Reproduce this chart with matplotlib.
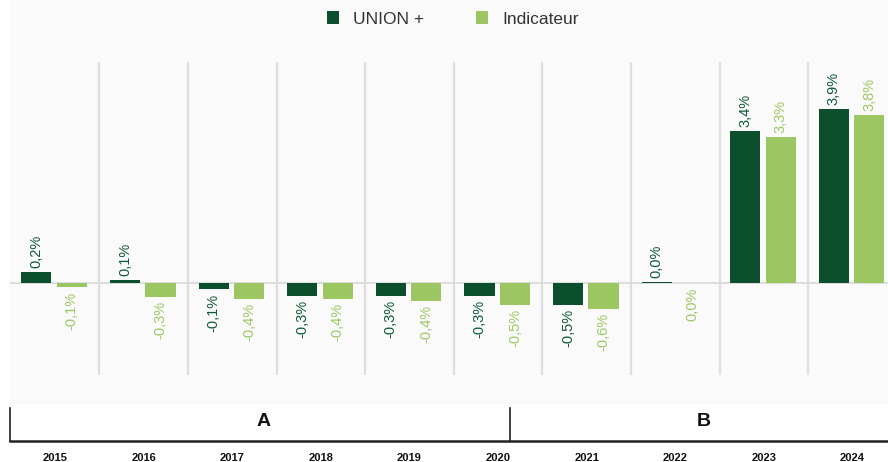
import matplotlib
matplotlib.use("Agg")
import matplotlib.pyplot as plt
import matplotlib.transforms as mtransforms
from matplotlib.patches import Rectangle
from matplotlib.lines import Line2D
import numpy as np

years = ["2015", "2016", "2017", "2018", "2019", "2020", "2021", "2022", "2023", "2024"]
union = [0.24, 0.06, -0.14, -0.29, -0.29, -0.29, -0.49, 0.02, 3.41, 3.90]
indic = [-0.10, -0.31, -0.36, -0.36, -0.40, -0.49, -0.58, -0.01, 3.27, 3.76]
series_names = ["UNION +", "Indicateur"]
groups = ["A", "B"]

DARK = "#0b4f2d"
LIGHT = "#9cc662"
DARK_TXT = "#0f5a35"
LIGHT_TXT = "#9cc862"

plt.rcParams['font.family'] = ['Liberation Sans', 'DejaVu Sans']

W, H = 888, 462
fig = plt.figure(figsize=(W / 100, H / 100), dpi=100)
fig.patch.set_facecolor("white")

# light grey panel background
fig.patches.append(Rectangle((10 / W, 1 - 404 / H), 1 - 10 / W, 404 / H,
                             transform=fig.transFigure, facecolor="#fafafa",
                             edgecolor="none", zorder=-5))

top_px, bot_px = 62, 375
ax = fig.add_axes([10 / W, 1 - bot_px / H, 1 - 10 / W, (bot_px - top_px) / H])
ax.set_zorder(2)
ax.set_facecolor("none")
for s in ax.spines.values():
    s.set_visible(False)

x = np.arange(len(years))
scale = 44.6
zero_px = 283
ax.set_ylim(-(bot_px - zero_px) / scale, (zero_px - top_px) / scale)
ax.set_xlim(-0.508, 9.40)

# vertical separators
for b in x[:-1] + 0.5:
    ax.axvline(b, color="#dedede", lw=1.6, zorder=1)
ax.axhline(0, color="#d8d8d8", lw=1.2, zorder=1)

bw = 0.34
off_d, off_l = -0.21, 0.19
b1 = ax.bar(x + off_d, union, bw, color=DARK, zorder=3, label=series_names[0])
b2 = ax.bar(x + off_l, indic, bw, color=LIGHT, zorder=3, label=series_names[1])


def fmt(v):
    s = f"{v:.1f}".replace(".", ",")
    if s == "-0,0":
        s = "0,0"
    return s + "%"


for xs, vals, col in ((x + off_d, union, DARK_TXT), (x + off_l, indic, LIGHT_TXT)):
    for xi, v in zip(xs, vals):
        if v >= 0:
            ax.annotate(fmt(v), (xi, v), xytext=(0, 3), textcoords="offset points",
                        rotation=90, ha="center", va="bottom", fontsize=10.5,
                        color=col, zorder=4)
        else:
            ax.annotate(fmt(v), (xi, v), xytext=(0, -3), textcoords="offset points",
                        rotation=90, ha="center", va="top", fontsize=10.5,
                        color=col, zorder=4)

# year labels as ticks
ax.set_xticks(x)
ax.set_xticklabels(years, fontsize=8, fontweight="bold", color="#111111")
ax.tick_params(axis="x", length=0, pad=(457 - bot_px) * 0.72 - 3)
ax.set_yticks([])

# bottom group bracket lines
trans = mtransforms.blended_transform_factory(ax.transData, fig.transFigure)
y_line = 1 - 441 / H
y_top = 1 - 408 / H
fig.add_artist(Line2D([ax.get_xlim()[0], ax.get_xlim()[1]], [y_line, y_line],
                      transform=trans, color="#222222", lw=1.8))
sep_x = 5.135
for xv in (ax.get_xlim()[0] + 0.005, sep_x):
    fig.add_artist(Line2D([xv, xv], [y_line, y_top], transform=trans,
                          color="#222222", lw=1.2))
fig.text(2.35, 1 - 421 / H, groups[0], transform=trans, ha="center", va="center",
         fontsize=14, fontweight="bold", color="#111111")
fig.text(7.32, 1 - 421 / H, groups[1], transform=trans, ha="center", va="center",
         fontsize=14, fontweight="bold", color="#111111")

# legend
leg = fig.legend(handles=[b1, b2], labels=series_names, loc="center",
                 bbox_to_anchor=(0.51, 1 - 19 / H), ncol=2, frameon=False,
                 fontsize=12.5, handlelength=0.7, handleheight=0.7,
                 columnspacing=3.0, handletextpad=0.8)
for t in leg.get_texts():
    t.set_color("#333333")

fig.savefig("out.png", dpi=100, facecolor="white")
